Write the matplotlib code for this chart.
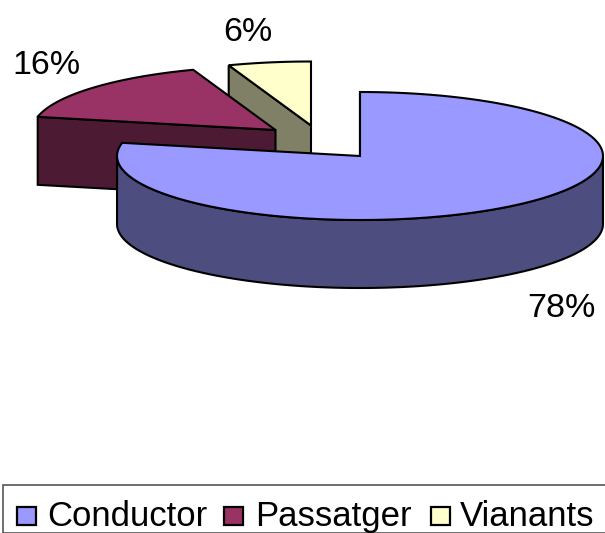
import numpy as np
import matplotlib
matplotlib.use('Agg')
import matplotlib.pyplot as plt
from matplotlib.patches import Polygon, Rectangle

plt.rcParams['font.family'] = ['Liberation Sans', 'DejaVu Sans']

categories = ['Conductor', 'Passatger', 'Vianants']
values = [78.3, 16.2, 5.5]
top_colors = ['#9999FF', '#993366', '#FFFFCC']
side_colors = ['#4D4D80', '#4D1A33', '#808066']
centers = [(360, 156), (275.5, 130), (311, 125.5)]
label_pos = [(561, 317), (46, 74), (248, 41)]

rx, ry = 243, 64
depth = 68

fig = plt.figure(figsize=(6.05, 5.33), dpi=100)
ax = fig.add_axes([0, 0, 1, 1])
ax.set_xlim(0, 605)
ax.set_ylim(533, 0)
ax.axis('off')


def rim(c, a0, a1):
    # clockwise from 12 o'clock
    t = np.radians(np.linspace(a0, a1, 200))
    return np.column_stack([c[0] + rx * np.sin(t), c[1] - ry * np.cos(t)])


def draw_slice(i, a0, a1):
    c = centers[i]
    pts = rim(c, a0, a1)
    down = np.array([0, depth])
    # cut face at the start of the slice, the other one is never seen
    p = pts[0]
    face = [c, p, p + down, np.array(c) + down]
    ax.add_patch(Polygon(face, fc=side_colors[i], ec='k', lw=1.5))
    # outer wall, only the part facing the viewer
    t = np.linspace(a0, a1, 200)
    front = pts[(t > 90) & (t < 270)]
    if len(front):
        wall = np.vstack([front, (front + down)[::-1]])
        ax.add_patch(Polygon(wall, fc=side_colors[i], ec='k', lw=1.5))
    ax.add_patch(Polygon(np.vstack([[c], pts]), fc=top_colors[i], ec='k', lw=1.5))


angles = np.cumsum([0] + values) / sum(values) * 360
# back slices first, big one last
for i in [2, 1, 0]:
    draw_slice(i, angles[i], angles[i + 1])

for v, pos in zip(values, label_pos):
    ax.text(pos[0], pos[1], '%.0f%%' % v, fontsize=24.5, ha='center', va='baseline', color='k')

# legend box
ax.add_patch(Rectangle((3, 485), 603, 48, fc='white', ec='#555555', lw=1.2, clip_on=False))
swatch_x = [17, 224, 431]
text_x = [47, 255, 460]
for name, col, sx, tx in zip(categories, top_colors, swatch_x, text_x):
    ax.add_patch(Rectangle((sx, 507), 19, 18, fc=col, ec='k', lw=1.6))
    ax.text(tx, 526, name, fontsize=25, ha='left', va='baseline', color='k')

plt.savefig('out.png', dpi=100)
